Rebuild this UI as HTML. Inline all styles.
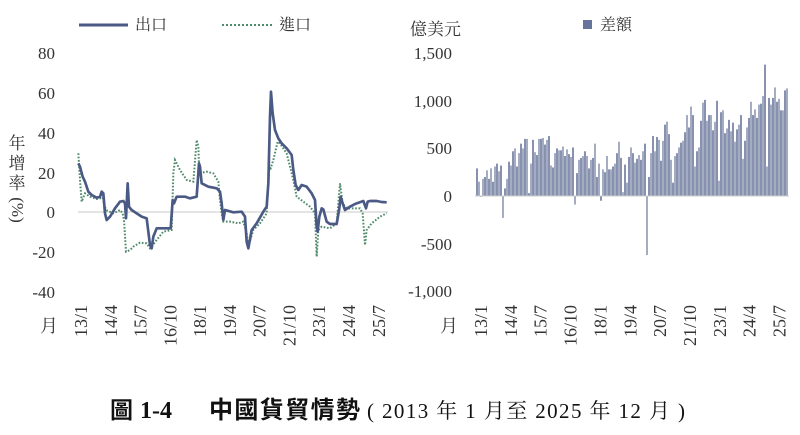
<!DOCTYPE html>
<html><head><meta charset="utf-8"><style>
html,body{margin:0;padding:0;background:#fff;width:800px;height:435px;overflow:hidden}
svg{display:block}
.ax{font-family:"Liberation Serif","Noto Serif CJK SC",serif;font-size:17px;fill:#333}
.cj{font-family:"Liberation Serif","Noto Serif CJK TC","Noto Sans CJK TC",serif;font-size:16px;fill:#333}
.tk{font-family:"Liberation Serif",serif;font-size:18px;fill:#333}
</style></head><body>
<svg id="s" width="800" height="435" xmlns="http://www.w3.org/2000/svg">
<line x1="79" y1="25" x2="128" y2="25" stroke="#4a5a85" stroke-width="3"/>
<text x="135" y="30" class="cj">出口</text>
<line x1="222" y1="25" x2="272" y2="25" stroke="#4f8a6a" stroke-width="2" stroke-dasharray="2,2"/>
<text x="279" y="30" class="cj">進口</text>
<g class="ax" text-anchor="end">
<text x="55" y="59">80</text><text x="55" y="99">60</text><text x="55" y="139">40</text>
<text x="55" y="179">20</text><text x="55" y="218">0</text><text x="55" y="258">-20</text><text x="55" y="298">-40</text>
</g>
<text x="17" y="149" class="cj" text-anchor="middle" style="font-size:17px">年</text>
<text x="17" y="169" class="cj" text-anchor="middle" style="font-size:17px">增</text>
<text x="17" y="189" class="cj" text-anchor="middle" style="font-size:17px">率</text>
<text transform="translate(12,210) rotate(90)" class="ax" text-anchor="middle">(%)</text>
<line x1="78" y1="212" x2="388" y2="212" stroke="#c8c8c8" stroke-width="1"/>
<g id="lines" transform="scale(0.33333)"></g>
<text x="410" y="35" class="cj" style="font-size:17px">億美元</text>
<rect x="583" y="20" width="9" height="9" fill="#66739a"/>
<text x="600" y="30" class="cj">差額</text>
<g class="ax" text-anchor="end">
<text x="452" y="59">1,500</text><text x="452" y="107">1,000</text><text x="452" y="154">500</text>
<text x="452" y="202">0</text><text x="452" y="250">-500</text><text x="452" y="297">-1,000</text>
</g>
<g id="bars"></g>
<g id="xl"></g>
<text x="40" y="332" class="cj" style="font-size:18px">月</text>
<text x="440" y="332" class="cj" style="font-size:18px">月</text>
<text x="110" y="418" style="font-family:'Noto Sans CJK TC',sans-serif;font-weight:bold;font-size:23px" fill="#111">圖</text>
<text x="140" y="418" style="font-family:'Liberation Serif',serif;font-weight:bold;font-size:24px" fill="#111">1-4</text>
<text x="209" y="418" style="font-family:'Noto Sans CJK TC',sans-serif;font-weight:bold;font-size:24px" fill="#111" textLength="151">中國貨貿情勢</text>
<text x="367" y="418" style="font-family:'Liberation Serif','Noto Serif CJK TC',serif;font-size:21px" fill="#111" textLength="318">( 2013 年 1 月至 2025 年 12 月 )</text>
</svg>
<script>
var NS="http://www.w3.org/2000/svg";
function el(t,a,p){var e=document.createElementNS(NS,t);for(var k in a)e.setAttribute(k,a[k]);p.appendChild(e);return e;}
var ex=[235,490,240,500,248,530,255,545,265,575,275,585,290,593,300,590,305,575,310,580,315,640,320,660,330,650,345,625,360,605,370,603,375,610,378,655,383,550,387,620,395,630,410,640,425,650,440,655,450,735,455,745,460,710,470,685,490,685,512,685,518,600,522,610,530,590,555,590,570,595,590,590,597,490,600,500,605,550,625,560,650,565,660,575,665,610,670,660,675,630,700,637,725,635,735,650,740,725,745,745,755,690,770,670,790,635,800,620,805,550,810,350,813,275,818,340,825,390,835,415,845,430,860,445,875,465,880,510,887,555,895,570,905,555,920,560,935,580,945,600,950,680,953,695,958,650,965,625,970,628,980,665,990,672,1010,672,1018,625,1022,590,1028,610,1035,630,1050,620,1065,612,1090,603,1098,625,1103,605,1110,603,1130,603,1145,606,1160,607];
var im=[235,460,240,540,245,605,255,580,270,590,290,597,300,595,305,580,312,610,318,630,340,640,360,630,368,640,372,660,378,755,390,750,400,740,420,728,440,730,450,745,455,740,470,720,490,695,515,690,520,520,525,480,540,510,560,540,580,545,590,420,595,440,598,520,620,515,640,520,655,545,660,600,665,640,670,665,690,665,715,670,730,665,740,700,745,740,760,690,780,670,800,640,808,500,812,505,820,480,833,425,840,430,860,460,870,500,880,540,890,590,910,605,930,620,945,640,950,770,955,690,965,680,990,685,1010,670,1020,550,1028,610,1040,625,1060,625,1080,625,1088,640,1095,735,1100,690,1115,670,1140,650,1160,640];
var g=document.getElementById('lines');
el('polyline',{points:im.join(' '),fill:'none',stroke:'#4f8a6a','stroke-width':6,'stroke-dasharray':'5,5'},g);
el('polyline',{points:ex.join(' '),fill:'none',stroke:'#4a5a85','stroke-width':8,'stroke-linejoin':'round'},g);
var v=[290,150,-9,180,200,270,180,290,150,310,340,260,320,-230,80,180,360,320,470,500,310,450,550,500,600,600,30,340,590,460,430,600,600,610,540,590,630,320,300,450,500,480,480,520,420,490,440,410,510,-90,240,380,400,420,470,420,290,380,400,550,200,340,-50,280,250,420,280,280,310,340,450,570,400,40,330,140,410,510,450,350,390,430,380,470,550,-620,200,450,630,470,620,590,370,580,750,780,650,380,140,420,450,510,560,580,670,850,720,940,850,310,470,510,790,980,1010,790,850,850,690,780,1000,160,880,900,660,710,800,680,770,570,700,750,850,390,580,720,820,990,850,910,820,960,970,1050,1380,310,1030,960,1030,1140,990,1020,900,900,1110,1130];
var b=document.getElementById('bars');var sc=47.6/500;
for(var i=0;i<v.length;i++){var x=477+i*2.0,h=v[i]*sc;
el('rect',{x:x-0.7,y:h>=0?196-h:196,width:1.4,height:Math.abs(h),fill:i%2?'#7e88a9':'#56648f'},b);}
el('line',{x1:475,y1:196,x2:789,y2:196,stroke:'#ccc','stroke-width':1},b);
var labs=[['13/1',0],['14/4',15],['15/7',30],['16/10',45],['18/1',60],['19/4',75],['20/7',90],['21/10',105],['23/1',120],['24/4',135],['25/7',150]];
var xl=document.getElementById('xl');
labs.forEach(function(l){[80+l[1]*1.985,480+l[1]*1.99].forEach(function(x){
var t=el('text',{transform:'translate('+(x+7)+',305) rotate(-90)','text-anchor':'end','class':'tk'},xl);t.textContent=l[0];});});
</script>
</body></html>
